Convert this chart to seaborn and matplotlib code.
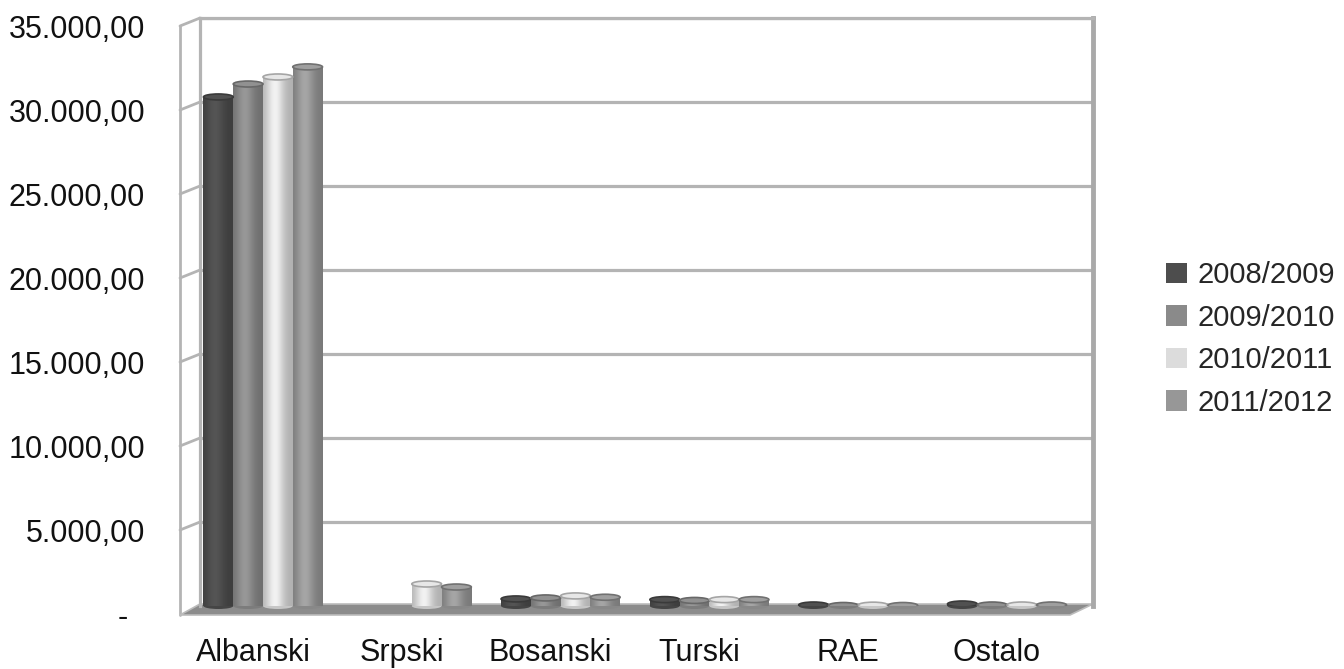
import numpy as np
import pandas as pd
import matplotlib
matplotlib.use("Agg")
import matplotlib.pyplot as plt
import matplotlib.transforms as mtransforms
from matplotlib.patches import Ellipse, Polygon, Patch
from matplotlib.lines import Line2D
import seaborn as sns

# Pupils by language of instruction, per school year
languages = ["Albanski", "Srpski", "Bosanski", "Turski", "RAE", "Ostalo"]
years = ["2008/2009", "2009/2010", "2010/2011", "2011/2012"]
pupils_2008_2009 = [30300, 0, 420, 380, 60, 120]
pupils_2009_2010 = [31070, 0, 480, 330, 30, 60]
pupils_2010_2011 = [31490, 1310, 600, 380, 50, 60]
pupils_2011_2012 = [32090, 1130, 520, 380, 30, 60]
y_ticks = [0, 5000, 10000, 15000, 20000, 25000, 30000, 35000]

bar_colors = ["#4d4d4d", "#8a8a8a", "#dcdcdc", "#979797"]
grid_color = "#b4b4b4"

series = [pupils_2008_2009, pupils_2009_2010, pupils_2010_2011, pupils_2011_2012]
df = pd.DataFrame(
    [(lang, yr, vals[i]) for yr, vals in zip(years, series) for i, lang in enumerate(languages)],
    columns=["language", "year", "pupils"],
)

sns.set_theme(style="white")
plt.rcParams["font.family"] = ["Liberation Sans", "DejaVu Sans"]

W_PX, H_PX = 1344, 669
fig = plt.figure(figsize=(W_PX / 100, H_PX / 100), dpi=100)
ax_l, ax_r, ax_top, ax_bot = 200, 1093, 18, 606
AW, AH = ax_r - ax_l, ax_bot - ax_top
ax = fig.add_axes([ax_l / W_PX, (H_PX - ax_bot) / H_PX, AW / W_PX, AH / H_PX])

sns.barplot(
    data=df, x="language", y="pupils", hue="year",
    order=languages, hue_order=years, palette=bar_colors,
    saturation=1, width=0.8, linewidth=0, legend=False, ax=ax, zorder=2,
)

ymax = y_ticks[-1]
x_lo = -63 / 148.8
x_hi = x_lo + AW / 148.8

# Back wall: grid and frame
ax.set_yticks(y_ticks)
ax.set_axisbelow(True)
ax.yaxis.grid(True, color=grid_color, lw=2.3)
ax.xaxis.grid(False)
ax.tick_params(left=False, bottom=False, labelleft=False, labelbottom=False)
for side in ["left", "top"]:
    ax.spines[side].set_color(grid_color)
    ax.spines[side].set_linewidth(2.3)
ax.spines["right"].set_color("#a9a9a9")
ax.spines["right"].set_linewidth(3.5)
ax.spines["bottom"].set_visible(False)
ax.set_xlabel("")
ax.set_ylabel("")

# Side wall and floor in perspective
dx = -20 / AW
dy = -8 / AH
side_kw = dict(transform=ax.transAxes, color=grid_color, lw=2.0, clip_on=False, zorder=1)
ax.add_line(Line2D([dx, dx], [-9 / AH, 1 + dy], **side_kw))
ax.add_line(Line2D([dx, 0], [1 + dy, 1], **side_kw))
for v in y_ticks[1:-1]:
    f = v / ymax
    ax.add_line(Line2D([dx, 0], [f + dy, f], **side_kw))
floor = Polygon(
    [(0, 2 / AH), (1, 2 / AH), ((1070 - ax_l) / AW, -9 / AH), (dx, -9 / AH)],
    closed=True, transform=ax.transAxes, facecolor="#8c8c8c",
    edgecolor="#bcbcbc", lw=1.2, clip_on=False, zorder=1.5,
)
ax.add_patch(floor)

# Cylinder shading for each bar
t = np.linspace(0, 1, 80)
shade = 0.80 + 0.30 * np.exp(-((t - 0.40) / 0.30) ** 2)
cap_h = 6 / AH * ymax
for p in list(ax.patches):
    if p is floor:
        continue
    h = p.get_height()
    if h <= 0:
        continue
    x0, w = p.get_x(), p.get_width()
    base = np.array(p.get_facecolor()[:3])
    img = np.clip(base[None, :] * shade[:, None], 0, 1)[None, :, :]
    ax.imshow(img, extent=[x0, x0 + w, 0, h], aspect="auto",
              interpolation="bilinear", zorder=3)
    ax.add_patch(Ellipse((x0 + w / 2, 0), w, cap_h, facecolor=np.clip(base * 0.9, 0, 1),
                         edgecolor="none", zorder=2.9, clip_on=False))
    ax.add_patch(Ellipse((x0 + w / 2, h), w, cap_h, facecolor=np.clip(base * 1.05, 0, 1),
                         edgecolor=np.clip(base * 0.75, 0, 1), lw=1.2, zorder=4))
ax.set_ylim(0, ymax)
ax.set_xlim(x_lo, x_hi)

# Axis labels on the front plane
font_size = 22


def fmt_value(v):
    if v == 0:
        return "-"
    s = f"{v:,.2f}"
    return s.replace(",", "X").replace(".", ",").replace("X", ".")


for v in y_ticks:
    x_right = -(ax_l - 145) / AW if v else -(ax_l - 128) / AW
    ax.text(x_right, v / ymax - 20 / AH, fmt_value(v), transform=ax.transAxes,
            ha="right", va="baseline", fontsize=font_size, color="#111111")

label_tr = mtransforms.blended_transform_factory(ax.transData, ax.transAxes) + \
    mtransforms.ScaledTranslation(-0.10, 0, fig.dpi_scale_trans)
for i, lang in enumerate(languages):
    ax.text(i, -(661 - ax_bot) / AH, lang, transform=label_tr, ha="center",
            va="baseline", fontsize=font_size, color="#111111")

handles = [Patch(facecolor=c, edgecolor="none") for c in bar_colors]
fig.legend(
    handles, years, loc="center left",
    bbox_to_anchor=(1166 / W_PX, 1 - 339 / H_PX), bbox_transform=fig.transFigure,
    frameon=False, fontsize=21, handlelength=0.72, handleheight=0.72,
    handletextpad=0.35, labelspacing=0.50, borderpad=0, borderaxespad=0,
)

fig.savefig("out.png", dpi=100, facecolor="white")
